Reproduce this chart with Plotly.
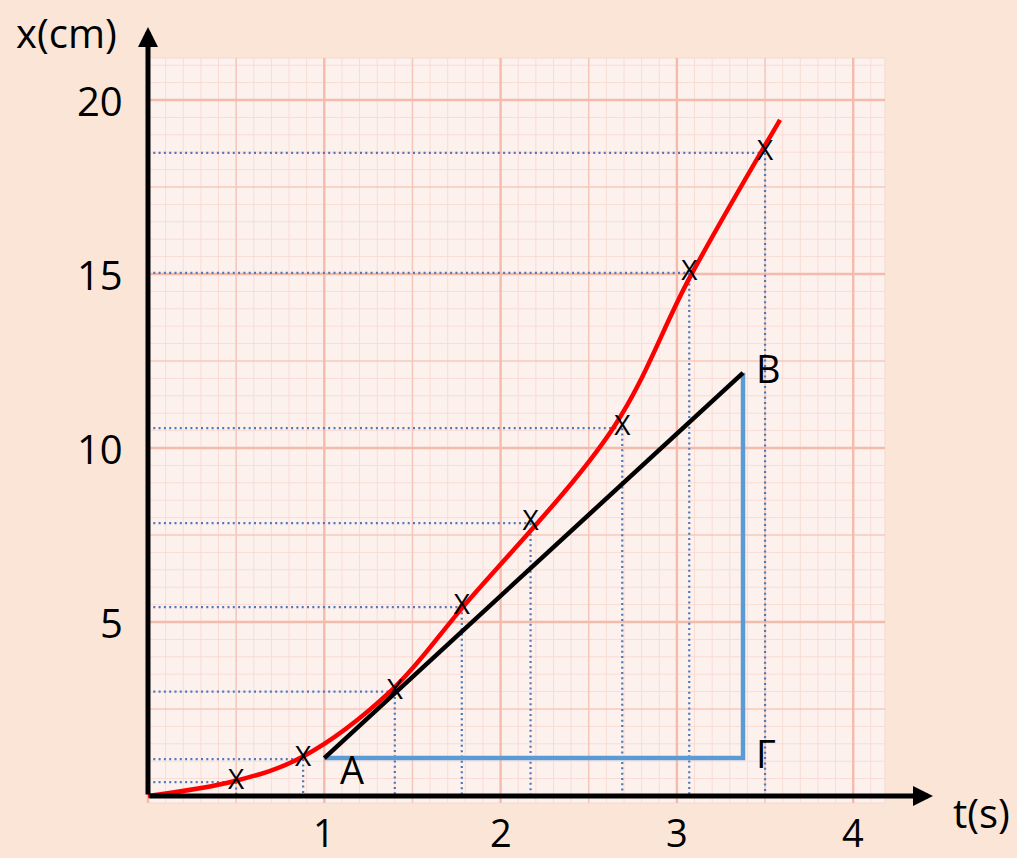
import plotly.graph_objects as go

# ---------------- data ----------------
point_t = [0.5, 0.88, 1.4, 1.78, 2.17, 2.69, 3.07, 3.5]
point_x = [0.4, 1.06, 3.0, 5.43, 7.84, 10.57, 15.03, 18.48]

curve_t = [0.0, 0.493, 0.874, 1.384, 1.781, 2.638, 3.074, 3.585]
curve_x = [0.0, 0.43, 1.12, 3.05, 5.40, 10.57, 14.91, 19.43]

tangent_t = [1.0, 3.375]
tangent_x = [1.09, 12.16]

x_ticks = [1, 2, 3, 4]
y_ticks = [5, 10, 15, 20]

label_names = ["A", "B", "Γ"]
label_t = [1.157, 3.517, 3.505]
label_x = [0.78, 12.3, 1.24]

# ---------------- styling ----------------
BG = "#FBE5D6"
PAPER = "#FDF1EE"
FONT = "Open Sans"
PX_X = 176.3
PX_Y = 34.8
X0 = 148
Y0 = 796
W, H = 1017, 858

x_range = [-X0 / PX_X, (W - X0) / PX_X]
y_range = [-(H - Y0) / PX_Y, Y0 / PX_Y]

paper_t = [0, (885 - X0) / PX_X]
paper_x = [-(803 - Y0) / PX_Y, (Y0 - 58) / PX_Y]

fig = go.Figure()

# graph-paper background
fig.add_shape(type="rect", x0=paper_t[0], x1=paper_t[1], y0=paper_x[0], y1=paper_x[1],
              fillcolor=PAPER, line=dict(color="#F2D9D0", width=1), layer="below")


def grid_trace(step_t, step_x, color, width, skip_t=None, skip_x=None):
    xs, ys = [], []
    n = int(paper_t[1] / step_t + 1e-9)
    for i in range(n + 1):
        v = round(i * step_t, 4)
        if skip_t and abs(v / skip_t - round(v / skip_t)) < 1e-6:
            continue
        xs += [v, v, None]
        ys += [paper_x[0], paper_x[1], None]
    m = int(paper_x[1] / step_x + 1e-9)
    for j in range(m + 1):
        v = round(j * step_x, 4)
        if skip_x and abs(v / skip_x - round(v / skip_x)) < 1e-6:
            continue
        xs += [paper_t[0], paper_t[1], None]
        ys += [v, v, None]
    return go.Scatter(x=xs, y=ys, mode="lines", line=dict(color=color, width=width),
                      hoverinfo="skip", showlegend=False)


fig.add_trace(grid_trace(0.1, 0.5, "#F8DCD4", 1, skip_t=0.5, skip_x=2.5))
fig.add_trace(grid_trace(0.5, 2.5, "#F5C8BB", 1.6, skip_t=1, skip_x=5))
fig.add_trace(grid_trace(1, 5, "#F3BBAC", 2.4))

# dotted guide lines
dx, dy = [], []
for t, x in zip(point_t, point_x):
    dx += [0, t, None, t, t, None]
    dy += [x, x, None, x, 0, None]
fig.add_trace(go.Scatter(x=dx, y=dy, mode="lines",
                         line=dict(color="#4F78B8", width=2.2, dash="2px,3.3px"),
                         hoverinfo="skip", showlegend=False))

# blue triangle legs
fig.add_trace(go.Scatter(x=[tangent_t[0], tangent_t[1], tangent_t[1]],
                         y=[tangent_x[0], tangent_x[0], tangent_x[1]],
                         mode="lines", line=dict(color="#5B9BD5", width=4.5),
                         hoverinfo="skip", showlegend=False))

# tangent line
fig.add_trace(go.Scatter(x=tangent_t, y=tangent_x, mode="lines",
                         line=dict(color="black", width=4.5),
                         hoverinfo="skip", showlegend=False))

# red curve
fig.add_trace(go.Scatter(x=curve_t, y=curve_x, mode="lines",
                         line=dict(color="#FF0000", width=4.5, shape="spline", smoothing=1.0),
                         hoverinfo="skip", showlegend=False))

# x marks
fig.add_trace(go.Scatter(x=point_t, y=point_x, mode="text", text=["X"] * len(point_t),
                         textposition="middle center",
                         textfont=dict(family=FONT, size=28, color="black"),
                         hoverinfo="skip", showlegend=False))

annotations = []
# axes with arrows
annotations.append(dict(x=(933 - X0) / PX_X, y=0, ax=0, ay=0, xref="x", yref="y",
                        axref="x", ayref="y", text="", showarrow=True, arrowhead=2,
                        arrowsize=0.8, arrowwidth=5, arrowcolor="black"))
annotations.append(dict(x=0, y=(Y0 - 27) / PX_Y, ax=0, ay=0, xref="x", yref="y",
                        axref="x", ayref="y", text="", showarrow=True, arrowhead=2,
                        arrowsize=0.8, arrowwidth=5, arrowcolor="black"))

# tick labels
for v in x_ticks:
    annotations.append(dict(x=v, y=-(832 - Y0) / PX_Y, xref="x", yref="y", text=str(v),
                            showarrow=False, font=dict(family=FONT, size=38, color="black"),
                            xanchor="center", yanchor="middle"))
for v in y_ticks:
    annotations.append(dict(x=(125 - X0) / PX_X, y=v, xref="x", yref="y", text=str(v),
                            showarrow=False, font=dict(family=FONT, size=40, color="black"),
                            xanchor="right", yanchor="middle"))

# axis titles
annotations.append(dict(x=(66 - X0) / PX_X, y=(Y0 - 32) / PX_Y, xref="x", yref="y",
                        text="x(cm)", showarrow=False,
                        font=dict(family=FONT, size=40, color="black"),
                        xanchor="center", yanchor="middle"))
annotations.append(dict(x=(981 - X0) / PX_X, y=-(812 - Y0) / PX_Y, xref="x", yref="y",
                        text="t(s)", showarrow=False,
                        font=dict(family=FONT, size=40, color="black"),
                        xanchor="center", yanchor="middle"))

# point labels
for name, t, x in zip(label_names, label_t, label_x):
    annotations.append(dict(x=t, y=x, xref="x", yref="y", text=name, showarrow=False,
                            font=dict(family=FONT, size=38, color="black"),
                            xanchor="center", yanchor="middle"))

fig.update_layout(
    width=W, height=H,
    margin=dict(l=0, r=0, t=0, b=0),
    paper_bgcolor=BG, plot_bgcolor=BG,
    xaxis=dict(range=x_range, visible=False, fixedrange=True),
    yaxis=dict(range=y_range, visible=False, fixedrange=True),
    annotations=annotations,
    showlegend=False,
)

fig.write_html(
    "out.html",
    config={"displayModeBar": False},
    post_script="document.body.style.margin='0';document.body.style.background='%s';" % BG,
)
